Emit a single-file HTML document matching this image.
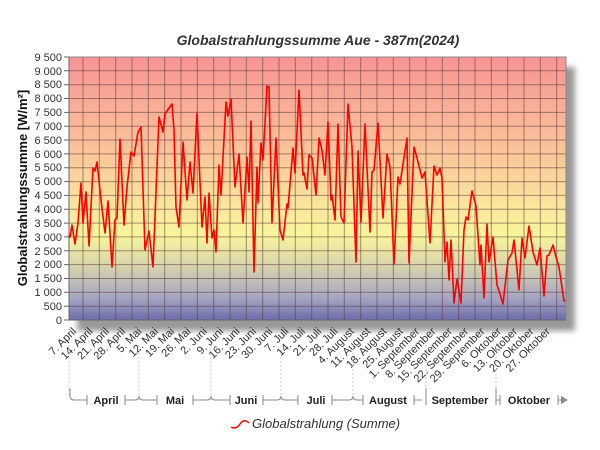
<!DOCTYPE html>
<html><head><meta charset="utf-8"><style>
body{margin:0;background:#fff;width:600px;height:450px;overflow:hidden}
svg{display:block;font-family:"Liberation Sans",sans-serif}
</style></head><body>
<svg width="600" height="450" viewBox="0 0 600 450">
<defs>
<linearGradient id="bg" x1="0" y1="0" x2="0" y2="1">
<stop offset="0" stop-color="#f79494"/>
<stop offset="0.35" stop-color="#fbc39a"/>
<stop offset="0.55" stop-color="#fbe39c"/>
<stop offset="0.68" stop-color="#f8f59c"/>
<stop offset="0.8" stop-color="#d6d2ae"/>
<stop offset="0.92" stop-color="#a4a4c2"/>
<stop offset="1" stop-color="#6c6cac"/>
</linearGradient>
<filter id="sh" x="-10%" y="-10%" width="130%" height="130%"><feGaussianBlur stdDeviation="3"/></filter>
</defs>
<text x="318" y="45" text-anchor="middle" font-size="14" font-weight="bold" font-style="italic" fill="#333">Globalstrahlungssumme Aue - 387m(2024)</text>
<rect x="77" y="67" width="498" height="264" fill="#999" filter="url(#sh)"/>
<rect x="69" y="57" width="497" height="263" fill="url(#bg)"/>
<g stroke="#5a3a3a" stroke-opacity="0.55" stroke-width="1">
<path d="M69 306.2H566M69 292.3H566M69 278.5H566M69 264.6H566M69 250.8H566M69 236.9H566M69 223.1H566M69 209.3H566M69 195.4H566M69 181.6H566M69 167.7H566M69 153.9H566M69 140H566M69 126.2H566M69 112.4H566M69 98.5H566M69 84.7H566M69 70.8H566"/>
<path d="M83 57V320M99.3 57V320M115.7 57V320M132 57V320M148.3 57V320M164.7 57V320M181 57V320M197.3 57V320M213.7 57V320M230 57V320M246.3 57V320M262.7 57V320M279 57V320M295.3 57V320M311.7 57V320M328 57V320M344.3 57V320M360.7 57V320M377 57V320M393.3 57V320M409.7 57V320M426 57V320M442.3 57V320M458.7 57V320M475 57V320M491.3 57V320M507.7 57V320M524 57V320M540.3 57V320M556.7 57V320"/>
</g>
<rect x="69" y="57" width="497" height="263" fill="none" stroke="#888" stroke-width="1"/>
<path d="M69 57V320H566" fill="none" stroke="#666"/>
<g stroke="#666"><path d="M64 320H69M64 306.2H69M64 292.3H69M64 278.5H69M64 264.6H69M64 250.8H69M64 236.9H69M64 223.1H69M64 209.3H69M64 195.4H69M64 181.6H69M64 167.7H69M64 153.9H69M64 140H69M64 126.2H69M64 112.4H69M64 98.5H69M64 84.7H69M64 70.8H69M64 57H69"/></g>
<g font-size="11" fill="#333" text-anchor="end">
<text x="62" y="324">0</text><text x="62" y="310">500</text><text x="62" y="296">1 000</text><text x="62" y="282">1 500</text><text x="62" y="268">2 000</text><text x="62" y="255">2 500</text><text x="62" y="241">3 000</text><text x="62" y="227">3 500</text><text x="62" y="213">4 000</text><text x="62" y="199">4 500</text><text x="62" y="185">5 000</text><text x="62" y="171">5 500</text><text x="62" y="158">6 000</text><text x="62" y="144">6 500</text><text x="62" y="130">7 000</text><text x="62" y="116">7 500</text><text x="62" y="102">8 000</text><text x="62" y="88">8 500</text><text x="62" y="75">9 000</text><text x="62" y="61">9 500</text>
</g>
<text transform="translate(27,188) rotate(-90)" text-anchor="middle" font-size="13" font-weight="bold" fill="#111">Globalstrahlungssumme [W/m²]</text>
<polyline fill="none" stroke="#f00" stroke-width="1.6" stroke-linejoin="round" points="69,235 70,237 72,225 75,244 78,223 81,183 83,223 86,192 89,246 93,168 95,171 97,162 101,200 105,233 108,201 112,267 115,220 117,218 120,139 124,225 127,187 131,152 134,156 138,132 141,127 145,250 149,231 153,267 159,117 163,132 165,114 169,108 172,104 174,130 176,207 179,227 183,142 187,200 190,162 193,193 197,113 202,227 205,197 207,243 209,193 212,238 214,230 216,252 219,165 221,195 226,102 228,116 231,99 235,187 239,154 243,223 247,157 249,192 251,121 254,272 257,167 258,203 261,143 263,160 267,86 269,87 272,223 276,138 280,230 283,240 287,204 288,208 293,148 295,173 299,90 303,175 304,173 307,189 309,155 312,158 316,195 319,138 322,150 325,175 328,122 331,200 332,195 335,220 338,124 341,217 344,223 348,104 352,147 356,262 358,151 361,222 365,124 370,232 372,172 374,170 378,123 383,218 387,154 390,167 394,264 398,177 400,184 407,138 409,263 414,147 417,158 422,178 425,172 430,243 434,166 437,175 440,168 442,178 445,262 447,242 449,280 451,240 454,303 457,279 461,303 464,230 466,217 468,220 472,191 476,206 480,265 481,245 484,298 487,224 489,262 493,237 497,285 500,294 503,304 508,260 512,253 514,240 519,290 522,238 525,258 529,226 533,252 537,265 540,248 544,296 547,256 549,255 553,245 556,257 559,267 564,301 565,300"/>
<g font-size="11" fill="#333" text-anchor="end">
<text transform="rotate(-45 77 332)" x="77" y="332">7. April</text>
<text transform="rotate(-45 93.3 332)" x="93.3" y="332">14. April</text>
<text transform="rotate(-45 109.7 332)" x="109.7" y="332">21. April</text>
<text transform="rotate(-45 126 332)" x="126" y="332">28. April</text>
<text transform="rotate(-45 142.3 332)" x="142.3" y="332">5. Mai</text>
<text transform="rotate(-45 158.7 332)" x="158.7" y="332">12. Mai</text>
<text transform="rotate(-45 175 332)" x="175" y="332">19. Mai</text>
<text transform="rotate(-45 191.3 332)" x="191.3" y="332">26. Mai</text>
<text transform="rotate(-45 207.7 332)" x="207.7" y="332">2. Juni</text>
<text transform="rotate(-45 224 332)" x="224" y="332">9. Juni</text>
<text transform="rotate(-45 240.3 332)" x="240.3" y="332">16. Juni</text>
<text transform="rotate(-45 256.7 332)" x="256.7" y="332">23. Juni</text>
<text transform="rotate(-45 273 332)" x="273" y="332">30. Juni</text>
<text transform="rotate(-45 289.3 332)" x="289.3" y="332">7. Juli</text>
<text transform="rotate(-45 305.7 332)" x="305.7" y="332">14. Juli</text>
<text transform="rotate(-45 322 332)" x="322" y="332">21. Juli</text>
<text transform="rotate(-45 338.3 332)" x="338.3" y="332">28. Juli</text>
<text transform="rotate(-45 354.7 332)" x="354.7" y="332">4. August</text>
<text transform="rotate(-45 371 332)" x="371" y="332">11. August</text>
<text transform="rotate(-45 387.3 332)" x="387.3" y="332">18. August</text>
<text transform="rotate(-45 403.7 332)" x="403.7" y="332">25. August</text>
<text transform="rotate(-45 420 332)" x="420" y="332">1. September</text>
<text transform="rotate(-45 436.3 332)" x="436.3" y="332">8. September</text>
<text transform="rotate(-45 452.7 332)" x="452.7" y="332">15. September</text>
<text transform="rotate(-45 469 332)" x="469" y="332">22. September</text>
<text transform="rotate(-45 485.3 332)" x="485.3" y="332">29. September</text>
<text transform="rotate(-45 501.7 332)" x="501.7" y="332">6. Oktober</text>
<text transform="rotate(-45 518 332)" x="518" y="332">13. Oktober</text>
<text transform="rotate(-45 534.3 332)" x="534.3" y="332">20. Oktober</text>
<text transform="rotate(-45 550.7 332)" x="550.7" y="332">27. Oktober</text>
</g>
<g stroke="#ccc" stroke-dasharray="2,2"><path d="M69 345V395M139 345V395M211 345V395M281 345V395M353 345V395M426 345V395M496 345V395"/></g>
<g stroke="#888" fill="none" stroke-width="1">
<path d="M70 388V396Q70 400 74 400H87M87 395V405"/>
<path d="M125 395V405M125 400H135Q139 400 139 396Q139 400 143 400H157M157 395V405"/>
<path d="M193 395V405M193 400H207Q211 400 211 396Q211 400 215 400H230M230 395V405"/>
<path d="M263 395V405M263 400H277Q281 400 281 396Q281 400 285 400H298M298 395V405"/>
<path d="M332 395V405M332 400H349Q353 400 353 396Q353 400 357 400H363M363 395V405"/>
<path d="M414 395V405M414 400H422M426 388V405"/>
<path d="M496 388V405M496 400H500M500 395V405"/>
<path d="M558 395V405M558 400H562"/>
</g>
<path d="M561 396L568 400L561 404Z" fill="#888"/>
<g font-size="11" font-weight="bold" fill="#222" text-anchor="middle">
<text x="106" y="404">April</text><text x="175" y="404">Mai</text><text x="246" y="404">Juni</text><text x="316" y="404">Juli</text><text x="388" y="404">August</text><text x="460" y="404">September</text><text x="529" y="404">Oktober</text>
</g>
<path d="M231 427Q236 430 240 424Q244 418 249 423" fill="none" stroke="#f00" stroke-width="1.5"/>
<text x="252" y="428" font-size="13" font-style="italic" fill="#333">Globalstrahlung (Summe)</text>
</svg>
</body></html>
